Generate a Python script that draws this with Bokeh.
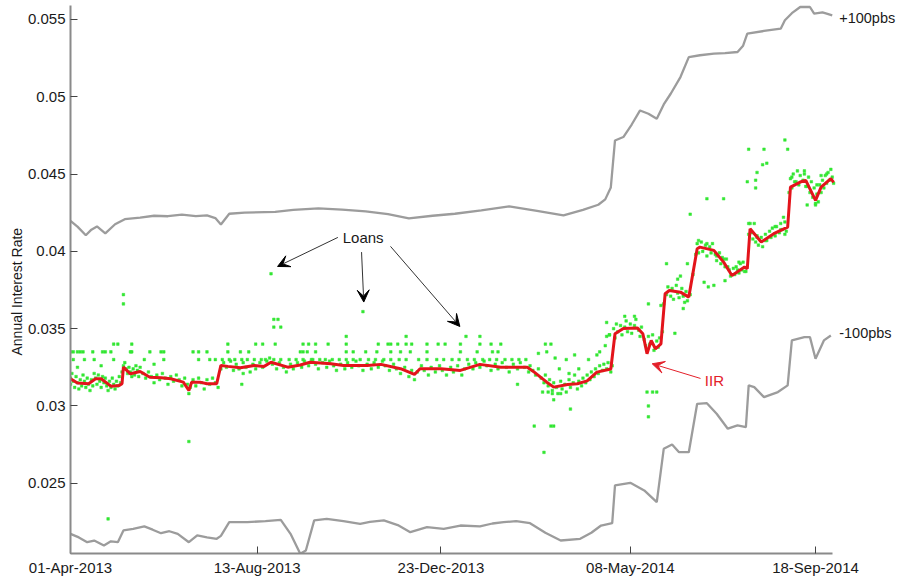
import numpy as np
from bokeh.plotting import figure
from bokeh.models import (Range1d, FixedTicker, DatetimeTickFormatter, CustomJSTickFormatter,
                          Label, Arrow, VeeHead, Title)
from bokeh.embed import file_html
from bokeh.resources import INLINE

# ---------------- data (days counted from 01-Apr-2013) ----------------
start_date = "2013-04-01"
axis_end_date = "2014-09-30"
tick_dates = ["2013-04-01", "2013-08-13", "2013-12-23", "2014-05-08", "2014-09-18"]
y_ticks = [0.025, 0.03, 0.035, 0.04, 0.045, 0.05, 0.055]

upper_days = [0, 5, 11, 15, 19, 25, 32, 39, 50, 60, 70, 80, 90, 98, 104, 108, 114,
              125, 147, 160, 178, 195, 212, 228, 243, 260, 276, 295, 315, 335, 354, 368, 379,
              384, 388, 391, 397, 403, 409, 415, 421, 426, 431, 438, 444, 452, 462, 470, 479,
              483, 486, 498, 510, 513, 518, 524, 531, 534, 540, 543, 547]
upper_rate = [0.04197, 0.04160, 0.04104, 0.04140, 0.04161, 0.04116, 0.04175, 0.04208, 0.04218, 0.04230,
              0.04227, 0.04238, 0.04228, 0.04232, 0.04215, 0.04174, 0.04243,
              0.04250, 0.04255, 0.04268, 0.04278, 0.04270, 0.04259, 0.04240, 0.04213, 0.04230, 0.04243,
              0.04265, 0.04290, 0.04262, 0.04232, 0.04268, 0.04301,
              0.04336, 0.04413, 0.04717, 0.04739, 0.04820, 0.04911, 0.04890, 0.04858, 0.04950, 0.05019,
              0.05127, 0.05256, 0.05268, 0.05278, 0.05282, 0.05289,
              0.05330, 0.05408, 0.05425, 0.05440, 0.05494, 0.05540, 0.05580, 0.05580, 0.05537, 0.05545,
              0.05537, 0.05526]

lower_days = [0, 6, 12, 17, 24, 29, 34, 38, 45, 53, 59, 65, 71, 77, 85,
              91, 98, 105, 108, 114, 127, 140, 151, 158, 165, 169, 175, 184,
              196, 208, 215, 225, 235, 244, 256, 268, 280, 294, 303, 311, 320, 330, 341, 352, 366,
              374, 381, 389, 391, 402, 412, 421, 426, 432, 437, 444,
              450, 457, 464, 472, 479, 485, 487, 491, 498, 508, 515,
              518, 527, 531, 535, 541, 546]
lower_rate = [0.02173, 0.02150, 0.02119, 0.02130, 0.02098, 0.02125, 0.02119, 0.02195, 0.02205, 0.02221,
              0.02200, 0.02177, 0.02190, 0.02173, 0.02119,
              0.02163, 0.02150, 0.02141, 0.02160, 0.02249, 0.02249, 0.02255, 0.02264, 0.02173, 0.02044,
              0.02065, 0.02260, 0.02270,
              0.02255, 0.02238, 0.02250, 0.02260, 0.02230, 0.02184, 0.02216, 0.02205, 0.02227, 0.02221,
              0.02240, 0.02249, 0.02255, 0.02242, 0.02180, 0.02130, 0.02141,
              0.02180, 0.02227, 0.02242, 0.02486, 0.02503, 0.02454, 0.02378, 0.02723, 0.02751, 0.02701,
              0.02701,
              0.03014, 0.03018, 0.02950, 0.02853, 0.02874, 0.02863, 0.03133, 0.03122, 0.03057, 0.03090,
              0.03133,
              0.03424, 0.03445, 0.03445, 0.03305, 0.03424, 0.03456]

iir_days = [0, 5, 13, 18, 22, 29, 35, 37, 38, 43,
            50, 57, 65, 72, 81, 85, 87, 93, 98, 105,
            108, 113, 122, 132, 139, 144, 156, 165, 172, 187,
            196, 213, 223, 237, 247, 251, 266, 280, 294, 309,
            328, 333, 342, 347, 357, 364, 371, 378, 388, 391,
            397, 407, 411, 414, 417, 420, 424, 427, 430, 438,
            444, 450, 452, 462, 469, 475, 484, 486, 488, 496,
            505, 515, 517, 524, 528, 535, 539, 546, 548]
iir_rate = [0.03176, 0.03148, 0.03144, 0.03176, 0.03176, 0.03128, 0.03133, 0.03144, 0.03251, 0.03208,
            0.03223, 0.03186, 0.03182, 0.03176, 0.03154, 0.03100, 0.03154, 0.03154, 0.03144, 0.03144,
            0.03262, 0.03256, 0.03247, 0.03262, 0.03256, 0.03283, 0.03251, 0.03265, 0.03283, 0.03273,
            0.03262, 0.03262, 0.03269, 0.03241, 0.03204, 0.03241, 0.03241, 0.03230, 0.03269, 0.03251,
            0.03251, 0.03219, 0.03154, 0.03122, 0.03139, 0.03144, 0.03162, 0.03219, 0.03239, 0.03467,
            0.03501, 0.03505, 0.03467, 0.03338, 0.03424, 0.03370, 0.03402, 0.03726, 0.03747, 0.03736,
            0.03704, 0.04017, 0.04027, 0.04006, 0.03930, 0.03844, 0.03898, 0.03888, 0.04146, 0.04060,
            0.04114, 0.04157, 0.04415, 0.04448, 0.04459, 0.04329, 0.04415, 0.04470, 0.04446]

# individual loans (day, rate)
loans_2013_spring = [
    (0, 0.0318), (0, 0.0314), (1, 0.0321), (2, 0.0316), (3, 0.0312), (4, 0.0319), (5, 0.0315), (6, 0.0311), (7, 0.0317), (8, 0.0313),
    (9, 0.0320), (10, 0.0316), (11, 0.0312), (12, 0.0318), (13, 0.0314), (14, 0.0310), (15, 0.0317), (16, 0.0313), (17, 0.0321), (18, 0.0318),
    (19, 0.0314), (20, 0.0320), (21, 0.0316), (22, 0.0312), (23, 0.0319), (24, 0.0315), (25, 0.0318), (26, 0.0313), (27, 0.0310), (28, 0.0316),
    (29, 0.0312), (30, 0.0318), (31, 0.0314), (32, 0.0311), (33, 0.0316), (34, 0.0313), (35, 0.0319), (36, 0.0315), (37, 0.0322), (38, 0.0326),
    (39, 0.0328), (40, 0.0324), (41, 0.0321), (42, 0.0325), (43, 0.0322), (44, 0.0319), (45, 0.0324), (46, 0.0320), (47, 0.0326), (48, 0.0323),
    (49, 0.0319), (50, 0.0325), (52, 0.0321), (54, 0.0318), (56, 0.0322), (58, 0.0319), (60, 0.0315), (62, 0.0320), (64, 0.0317), (66, 0.0321),
    (68, 0.0318), (70, 0.0314), (72, 0.0319), (74, 0.0316), (76, 0.0320), (78, 0.0317), (80, 0.0313), (82, 0.0318), (84, 0.0314), (85, 0.0308),
    (86, 0.0312), (88, 0.0317), (90, 0.0313), (92, 0.0318), (94, 0.0315), (96, 0.0311), (98, 0.0317), (100, 0.0314), (102, 0.0318), (104, 0.0315),
    (106, 0.0312), (5, 0.0325), (22, 0.0326), (60, 0.0327),
    (0, 0.0335), (2, 0.0335), (5, 0.0335), (7, 0.0335), (9, 0.0335), (16, 0.0335), (23, 0.0335), (25, 0.0335), (29, 0.0335), (43, 0.0335),
    (44, 0.0335), (57, 0.0335), (65, 0.0335), (67, 0.0335), (88, 0.0335), (92, 0.0335), (98, 0.0335),
    (31, 0.0340), (34, 0.0340), (44, 0.0340),
    (2, 0.0330), (10, 0.0330), (17, 0.0330), (31, 0.0330), (53, 0.0330), (67, 0.0330), (92, 0.0330), (100, 0.0330), (104, 0.0330),
    (38, 0.0372), (38, 0.0366), (27, 0.0227), (85, 0.0277),
]
loans_2013_autumn = [
    (108, 0.0324), (110, 0.0328), (112, 0.0325), (115, 0.0329), (117, 0.0323), (119, 0.0327), (121, 0.0324), (124, 0.0328), (126, 0.0325), (129, 0.0322),
    (131, 0.0327), (133, 0.0324), (136, 0.0328), (138, 0.0325), (141, 0.0329), (143, 0.0331), (145, 0.0327), (148, 0.0324), (150, 0.0328), (153, 0.0325),
    (155, 0.0322), (158, 0.0327), (160, 0.0324), (163, 0.0328), (166, 0.0325), (168, 0.0329), (171, 0.0326), (173, 0.0330), (176, 0.0327), (178, 0.0324),
    (181, 0.0328), (184, 0.0325), (186, 0.0329), (189, 0.0326), (191, 0.0323), (194, 0.0327), (197, 0.0324), (199, 0.0328), (202, 0.0325), (205, 0.0329),
    (207, 0.0326), (210, 0.0323), (213, 0.0327), (216, 0.0324), (218, 0.0328), (221, 0.0325), (224, 0.0329), (226, 0.0326), (229, 0.0323), (232, 0.0327),
    (234, 0.0324), (237, 0.0321), (240, 0.0325), (243, 0.0319), (245, 0.0323), (247, 0.0317), (249, 0.0322), (252, 0.0326), (254, 0.0323), (257, 0.0320),
    (259, 0.0325), (262, 0.0322), (265, 0.0326), (267, 0.0323), (270, 0.0320), (273, 0.0325), (275, 0.0322), (278, 0.0326), (281, 0.0320), (283, 0.0324),
    (286, 0.0327), (289, 0.0324), (291, 0.0328), (294, 0.0325), (297, 0.0329), (299, 0.0326), (302, 0.0323), (305, 0.0327), (307, 0.0324), (310, 0.0328),
    (313, 0.0325), (315, 0.0322), (318, 0.0327), (321, 0.0324), (323, 0.0328), (326, 0.0325), (329, 0.0322), (123, 0.0314), (124, 0.0321),
    (109, 0.0330), (114, 0.0330), (118, 0.0330), (123, 0.0330), (127, 0.0330), (132, 0.0330), (137, 0.0330), (140, 0.0330), (146, 0.0330), (151, 0.0330),
    (157, 0.0330), (162, 0.0330), (167, 0.0330), (174, 0.0330), (179, 0.0330), (183, 0.0330), (188, 0.0330), (193, 0.0330), (198, 0.0330), (203, 0.0330),
    (208, 0.0330), (214, 0.0330), (219, 0.0330), (225, 0.0330), (230, 0.0330), (236, 0.0330), (241, 0.0330), (250, 0.0330), (256, 0.0330), (263, 0.0330),
    (268, 0.0330), (274, 0.0330), (279, 0.0330), (285, 0.0330), (290, 0.0330), (296, 0.0330), (301, 0.0330), (306, 0.0330), (312, 0.0330), (317, 0.0330),
    (322, 0.0330), (327, 0.0330),
    (113, 0.0335), (122, 0.0335), (128, 0.0335), (165, 0.0335), (167, 0.0335), (170, 0.0335), (176, 0.0335), (198, 0.0335), (203, 0.0335), (212, 0.0335),
    (220, 0.0335), (230, 0.0335), (237, 0.0335), (244, 0.0335), (256, 0.0335), (280, 0.0335), (292, 0.0335), (303, 0.0335), (307, 0.0335),
    (113, 0.0340), (133, 0.0340), (138, 0.0340), (147, 0.0340), (167, 0.0340), (171, 0.0340), (176, 0.0340), (185, 0.0340), (198, 0.0340), (221, 0.0340),
    (228, 0.0340), (230, 0.0340), (235, 0.0340), (241, 0.0340), (245, 0.0340), (256, 0.0340), (264, 0.0340), (269, 0.0340), (280, 0.0340), (294, 0.0340),
    (302, 0.0340), (309, 0.0340),
    (198, 0.0345), (241, 0.0345), (284, 0.0345), (294, 0.0345),
    (144, 0.03855), (146, 0.0356), (149, 0.0356), (146, 0.0351), (151, 0.0351), (210, 0.0361),
]
loans_2014_spring = [
    (330, 0.0326), (332, 0.0323), (334, 0.0320), (336, 0.0324), (338, 0.0318), (340, 0.0315), (341, 0.0320), (343, 0.0313), (344, 0.0317), (346, 0.0310),
    (347, 0.0315), (349, 0.0312), (350, 0.0308), (352, 0.0316), (353, 0.0311), (355, 0.0314), (356, 0.0309), (358, 0.0317), (359, 0.0312), (361, 0.0315),
    (362, 0.0320), (364, 0.0311), (365, 0.0316), (367, 0.0313), (368, 0.0318), (370, 0.0315), (371, 0.0320), (373, 0.0317), (374, 0.0322), (376, 0.0319),
    (377, 0.0324), (379, 0.0321), (380, 0.0326), (382, 0.0323), (383, 0.0327), (385, 0.0324), (386, 0.0328), (388, 0.0322), (389, 0.0326),
    (336, 0.0334), (341, 0.0340), (345, 0.0340), (333, 0.0287), (345, 0.0287), (347, 0.0287), (340, 0.0270), (359, 0.0298), (347, 0.0304), (339, 0.0309),
    (343, 0.0309), (346, 0.0308), (352, 0.0308), (351, 0.0324), (358, 0.0321), (365, 0.0324), (321, 0.0314), (342, 0.0335), (348, 0.0331), (356, 0.0330),
    (362, 0.0333), (372, 0.0330), (378, 0.0333), (384, 0.0339), (385, 0.0345), (387, 0.0346), (380, 0.0335),
]
loans_2014_summer = [
    (390, 0.0350), (391, 0.0344), (392, 0.0353), (393, 0.0348), (395, 0.0352), (396, 0.0346), (398, 0.0351), (399, 0.0355), (400, 0.0348), (402, 0.0353),
    (403, 0.0347), (405, 0.0352), (406, 0.0356), (408, 0.0349), (409, 0.0345), (410, 0.0351), (412, 0.0343), (413, 0.0339), (415, 0.0345), (416, 0.0340),
    (418, 0.0346), (419, 0.0336), (421, 0.0342), (422, 0.0338), (423, 0.0344), (425, 0.0348), (426, 0.0366), (428, 0.0372), (429, 0.0377), (431, 0.0371),
    (432, 0.0376), (433, 0.0369), (435, 0.0378), (436, 0.0373), (437, 0.0370), (439, 0.0376), (440, 0.0371), (441, 0.0367), (442, 0.0374), (443, 0.0368),
    (445, 0.0372), (447, 0.0385), (449, 0.0398), (450, 0.0405), (451, 0.0399), (453, 0.0406), (454, 0.0400), (456, 0.0404), (457, 0.0397), (459, 0.0403),
    (460, 0.0399), (461, 0.0405), (463, 0.0398), (464, 0.0394), (466, 0.0399), (467, 0.0392), (468, 0.0396), (470, 0.0390), (471, 0.0395), (473, 0.0388),
    (474, 0.0384), (476, 0.0389), (477, 0.0385), (478, 0.0390), (480, 0.0386), (481, 0.0392), (482, 0.0388), (483, 0.0393), (485, 0.0387), (487, 0.0411),
    (488, 0.0418), (489, 0.0412), (490, 0.0408), (492, 0.0406), (493, 0.0410), (494, 0.0404), (496, 0.0409), (497, 0.0403), (499, 0.0411), (500, 0.0407),
    (502, 0.0413), (503, 0.0409), (504, 0.0415), (506, 0.0410), (507, 0.0416), (509, 0.0412), (510, 0.0418), (511, 0.0414), (513, 0.0419), (514, 0.0413),
    (516, 0.0438), (517, 0.0447), (518, 0.0441), (519, 0.0450), (520, 0.0445), (522, 0.0452), (523, 0.0443), (524, 0.0449), (526, 0.0446), (527, 0.0452),
    (528, 0.0442), (530, 0.0448), (531, 0.0438), (532, 0.0445), (533, 0.0435), (534, 0.0441), (535, 0.0430), (536, 0.0437), (537, 0.0432), (538, 0.0443),
    (539, 0.0438), (540, 0.0446), (541, 0.0441), (542, 0.0449), (543, 0.0444), (544, 0.0451), (545, 0.0446), (546, 0.0453), (547, 0.0448), (548, 0.0444),
    (385, 0.0354), (415, 0.0366), (424, 0.0365), (434, 0.0347), (428, 0.0392), (436, 0.0382), (438, 0.0384), (443, 0.0392), (445, 0.0424), (451, 0.0407),
    (457, 0.0405), (458, 0.0377), (464, 0.0397), (469, 0.0395), (472, 0.0390), (479, 0.0388), (484, 0.0387), (480, 0.0393), (487, 0.0418), (491, 0.0418),
    (493, 0.0409), (499, 0.0407), (506, 0.0416), (510, 0.0414), (512, 0.0422), (513, 0.0411), (529, 0.0430), (535, 0.0431), (513, 0.0472), (515, 0.0466),
    (487, 0.0466), (498, 0.0466), (497, 0.0456), (500, 0.0457), (493, 0.0451), (486, 0.0445), (492, 0.0446), (492, 0.0441), (457, 0.0434), (469, 0.0434),
    (518, 0.0448), (527, 0.0450), (521, 0.0445), (529, 0.0442), (536, 0.0443), (539, 0.0449), (543, 0.0450), (414, 0.0309), (418, 0.0309), (421, 0.0309),
    (415, 0.0300), (415, 0.0293), (387, 0.0346), (440, 0.0363), (455, 0.0380), (462, 0.0378), (470, 0.0381), (405, 0.0358), (398, 0.0358),
]

# annotation positions (day, rate)
loan_arrows = [((192.0, 0.0409), (148.7, 0.03902)),
               ((209.0, 0.03995), (210.6, 0.03672)),
               ((229.8, 0.04032), (279.6, 0.03514))]
iir_arrow = ((452.4, 0.03178), (417.7, 0.03273))
loans_text_pos = (195.5, 0.0409)
iir_text_pos = (455.5, 0.03165)
upper_text_pos = (552.0, 0.05506)
lower_text_pos = (552.0, 0.03469)

# ---------------- helpers ----------------
DAY_MS = 86400000.0
EPOCH = np.datetime64("1970-01-01")


def date_ms(d):
    return float((np.datetime64(d) - EPOCH).astype("timedelta64[ms]").astype(np.int64))


START_MS = date_ms(start_date)


def to_ms(days):
    return START_MS + np.asarray(days, dtype=float) * DAY_MS


loan_pairs = loans_2013_spring + loans_2013_autumn + loans_2014_spring + loans_2014_summer
loan_days = [d for d, _ in loan_pairs]
loan_rate = [r for _, r in loan_pairs]

FONT = "Liberation Sans"
Y_MIN, Y_MAX = 0.02046, 0.05622

p = figure(width=899, height=578, output_backend="svg", toolbar_location=None,
           x_axis_type="datetime",
           x_range=Range1d(START_MS, float(to_ms(595.3))),
           y_range=Range1d(Y_MIN, Y_MAX),
           min_border_left=70, min_border_right=0, min_border_top=0, min_border_bottom=25)
p.outline_line_color = None
p.grid.visible = False
p.background_fill_color = "white"
p.border_fill_color = "white"

p.line(to_ms(upper_days), upper_rate, line_color="#9c9c9c", line_width=2.3)
p.line(to_ms(lower_days), lower_rate, line_color="#9c9c9c", line_width=2.3)
p.scatter(to_ms(loan_days), loan_rate, marker="square", size=2.6, fill_color="#33e633",
          line_color="#33e633", line_width=0.5)
p.line(to_ms(iir_days), iir_rate, line_color="#e3141b", line_width=3)

# axes
p.xaxis.ticker = FixedTicker(ticks=[date_ms(d) for d in tick_dates])
fmt = "%d-%b-%Y"
p.xaxis.formatter = DatetimeTickFormatter(microseconds=fmt, milliseconds=fmt, seconds=fmt, minsec=fmt,
                                          minutes=fmt, hourmin=fmt, hours=fmt, days=fmt,
                                          months=fmt, years=fmt)
p.yaxis.ticker = FixedTicker(ticks=y_ticks)
p.yaxis.formatter = CustomJSTickFormatter(code="return Number(tick.toFixed(4)).toString();")
p.xaxis.bounds = (START_MS, date_ms(axis_end_date))
p.yaxis.bounds = (Y_MIN, 0.0559)
for ax in (p.xaxis[0], p.yaxis[0]):
    ax.axis_line_color = "#8a8a8a"
    ax.axis_line_width = 2
    ax.major_tick_in = 7
    ax.major_tick_out = 0
    ax.major_tick_line_color = "#444444"
    ax.minor_tick_line_color = None
    ax.major_label_text_font = FONT
    ax.major_label_text_font_size = "15px"
    ax.major_label_text_color = "#1a1a1a"
p.xaxis.major_label_standoff = 5
p.yaxis.major_label_standoff = 5

# y-axis title, placed in the left panel
p.add_layout(Title(text="Annual Interest Rate", align="left", offset=198, standoff=0,
                   text_font=FONT, text_font_size="14px", text_font_style="normal",
                   text_color="#1a1a1a"), "left")


# annotations
def add_label(pos, text, color="#1a1a1a", size="15px", **kw):
    p.add_layout(Label(x=float(to_ms(pos[0])), y=pos[1], text=text, text_font=FONT,
                       text_font_size=size, text_color=color, text_baseline="middle", **kw))


add_label(upper_text_pos, "+100pbs", size="14.5px")
add_label(lower_text_pos, "-100pbs", size="14.5px")
add_label(loans_text_pos, "Loans")
add_label(iir_text_pos, "IIR", color="#e3202a")

for (s, e) in loan_arrows:
    p.add_layout(Arrow(x_start=float(to_ms(s[0])), y_start=s[1], x_end=float(to_ms(e[0])), y_end=e[1],
                       line_color="#333333", line_width=1,
                       end=VeeHead(size=12, fill_color="black", line_color="black")))
s, e = iir_arrow
p.add_layout(Arrow(x_start=float(to_ms(s[0])), y_start=s[1], x_end=float(to_ms(e[0])), y_end=e[1],
                   line_color="#e3202a", line_width=1,
                   end=VeeHead(size=12, fill_color="#e3202a", line_color="#e3202a")))

open("out.html", "w").write(file_html(p, INLINE))
